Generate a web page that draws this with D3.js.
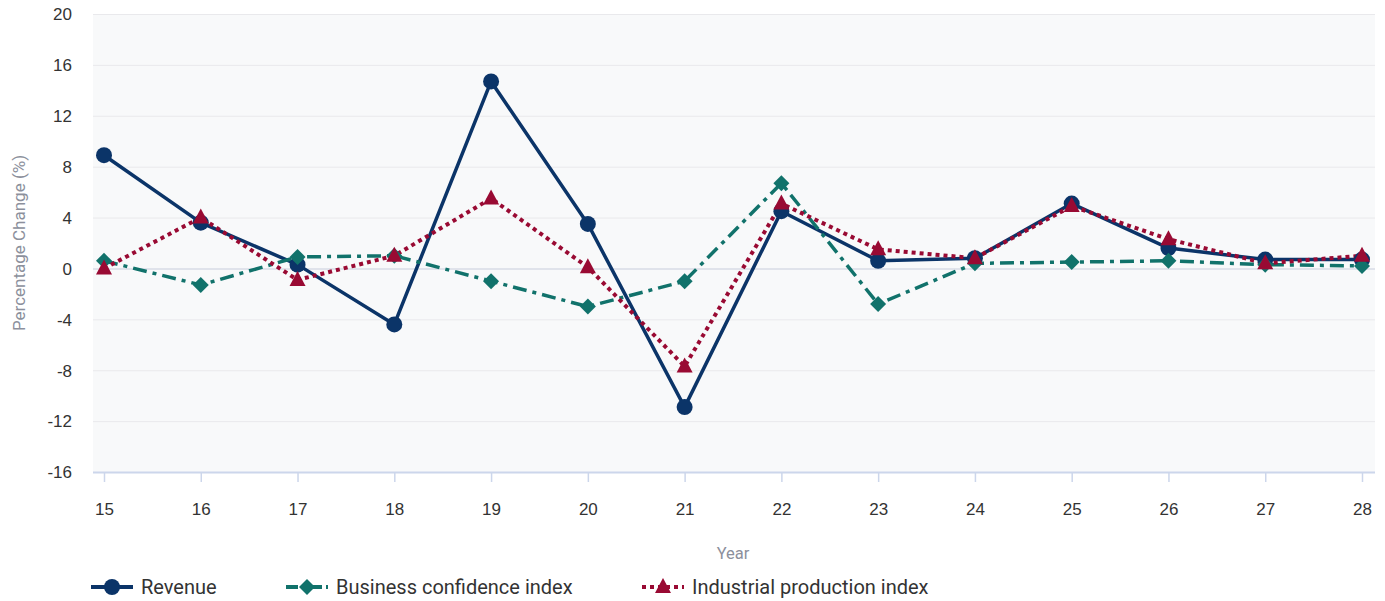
<!DOCTYPE html>
<html>
<head>
<meta charset="utf-8">
<script src="https://cdn.jsdelivr.net/npm/d3@7/dist/d3.min.js"></script>
<style>
  html, body { margin: 0; padding: 0; background: #ffffff; }
  svg { display: block; font-family: Roboto, "Noto Sans", sans-serif; }
</style>
</head>
<body>
<svg id="chart" width="1385" height="601"></svg>
<script>
// Years on the x axis (two-digit labels)
const years = ["15", "16", "17", "18", "19", "20", "21", "22", "23", "24", "25", "26", "27", "28"];

// Year-over-year percentage change per series
const revenue = [8.9, 3.6, 0.3, -4.4, 14.7, 3.5, -10.9, 4.5, 0.6, 0.8, 5.1, 1.6, 0.7, 0.7];
const businessConfidence = [0.6, -1.3, 0.9, 1.0, -1.0, -3.0, -1.0, 6.7, -2.8, 0.4, 0.5, 0.6, 0.3, 0.2];
const industrialProduction = [0.0, 4.0, -0.9, 1.0, 5.5, 0.1, -7.7, 5.1, 1.5, 0.8, 4.9, 2.3, 0.4, 1.0];

const yTicks = [-16, -12, -8, -4, 0, 4, 8, 12, 16, 20];

const seriesList = [
  { name: "Revenue", values: revenue, color: "#0b3468", dash: null, symbol: "circle", width: 3.5 },
  { name: "Business confidence index", values: businessConfidence, color: "#11726b", dash: "14,6,4,6", symbol: "diamond", width: 3.5 },
  { name: "Industrial production index", values: industrialProduction, color: "#990a33", dash: "4,4", symbol: "triangle", width: 4 }
];

const svg = d3.select("#chart");
const plot = { left: 93, right: 1375, top: 14, bottom: 472 };

const x = d3.scalePoint().domain(years).range([104, 1362]);
const y = d3.scaleLinear().domain([-16, 20]).range([plot.bottom, plot.top]);

// Plot background
svg.append("rect")
  .attr("x", plot.left).attr("y", plot.top)
  .attr("width", plot.right - plot.left).attr("height", plot.bottom - plot.top)
  .attr("fill", "#f8f9fa");

// Horizontal grid lines and y labels (plain hyphen for negatives)
const yAxis = d3.axisLeft(y).tickValues(yTicks)
  .tickSize(-(plot.right - plot.left))
  .tickFormat(d => String(d));
const gy = svg.append("g").attr("transform", `translate(${plot.left},0)`).call(yAxis);
gy.select(".domain").remove();
gy.selectAll(".tick line").attr("stroke", d => d === 0 ? "#d8dbe6" : "#e9e9ec").attr("stroke-width", d => d === 0 ? 1.5 : 1);
gy.selectAll(".tick text").attr("fill", "#333333").attr("font-size", 17).attr("x", -21).attr("dy", "0.34em");

// X axis with category ticks
const xAxis = d3.axisBottom(x).tickSize(10).tickPadding(0);
const gx = svg.append("g").attr("transform", `translate(0,${plot.bottom})`).call(xAxis);
gx.select(".domain").attr("d", `M${plot.left},0.5H${plot.right}`).attr("stroke", "#ccd6eb").attr("stroke-width", 2);
gx.selectAll(".tick line").attr("stroke", "#ccd6eb").attr("stroke-width", 1.5);
gx.selectAll(".tick text").attr("fill", "#333333").attr("font-size", 17).attr("y", 43).attr("dy", 0);

// Axis titles
svg.append("text")
  .attr("x", 733).attr("y", 559)
  .attr("text-anchor", "middle")
  .attr("fill", "#8c909c").attr("font-size", 16.5)
  .text("Year");

svg.append("text")
  .attr("transform", "translate(25,243) rotate(-90)")
  .attr("text-anchor", "middle")
  .attr("fill", "#8c909c").attr("font-size", 17)
  .text("Percentage Change (%)");

// Marker shapes
function symbolPath(kind) {
  if (kind === "circle") return d3.symbol().type(d3.symbolCircle).size(Math.PI * 8 * 8)();
  if (kind === "diamond") return "M0,-8L8,0L0,8L-8,0Z";
  return "M0,-9L8,6L-8,6Z";
}

const line = d3.line().x((d, i) => x(years[i])).y(d => y(d));

// Series lines and markers
seriesList.forEach(s => {
  svg.append("path")
    .attr("d", line(s.values))
    .attr("fill", "none")
    .attr("stroke", s.color)
    .attr("stroke-width", s.width)
    .attr("stroke-linejoin", "round")
    .attr("stroke-dasharray", s.dash);
});

seriesList.forEach(s => {
  svg.append("g").selectAll("path")
    .data(s.values)
    .join("path")
    .attr("transform", (d, i) => `translate(${x(years[i])},${y(d)})`)
    .attr("d", symbolPath(s.symbol))
    .attr("fill", s.color);
});

// Legend
const legendX = [91, 286, 642];
seriesList.forEach((s, i) => {
  const g = svg.append("g").attr("transform", `translate(${legendX[i]},587)`);
  g.append("line")
    .attr("x1", 0).attr("x2", 42).attr("y1", 0).attr("y2", 0)
    .attr("stroke", s.color).attr("stroke-width", 4)
    .attr("stroke-dasharray", s.symbol === "diamond" ? "12,4,4,4" : s.dash);
  g.append("path")
    .attr("transform", "translate(21,0)")
    .attr("d", symbolPath(s.symbol))
    .attr("fill", s.color);
  g.append("text")
    .attr("x", 50).attr("y", 7)
    .attr("fill", "#333333").attr("font-size", 20)
    .text(s.name);
});
</script>
</body>
</html>
